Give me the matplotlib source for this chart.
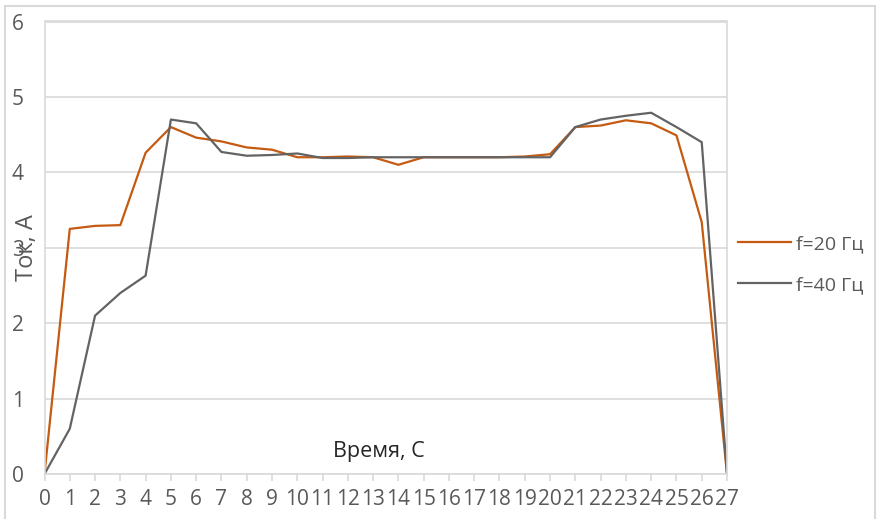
import matplotlib.pyplot as plt
from matplotlib.patches import Rectangle

plt.rcParams['font.family'] = ['Open Sans', 'DejaVu Sans']

# time, s
t = list(range(28))
# current, A
i_20 = [0, 3.25, 3.29, 3.30, 4.26, 4.60, 4.46, 4.41, 4.33, 4.30, 4.20, 4.20, 4.21, 4.20,
        4.10, 4.20, 4.20, 4.20, 4.20, 4.21, 4.24, 4.60, 4.62, 4.69, 4.65, 4.49, 3.34, 0]
i_40 = [0, 0.60, 2.10, 2.40, 2.63, 4.70, 4.65, 4.27, 4.22, 4.23, 4.25, 4.19, 4.19, 4.20,
        4.20, 4.20, 4.20, 4.20, 4.20, 4.20, 4.20, 4.60, 4.70, 4.75, 4.79, 4.60, 4.40, 0]
labels = ['f=20 Гц', 'f=40 Гц']

W, H = 881, 519
fig = plt.figure(figsize=(W / 100, H / 100), dpi=100)
ax = fig.add_axes([44.5 / W, 1 - 474 / H, (727 - 44.5) / W, (474 - 21.5) / H])

grid_c = '#D9D9D9'
text_c = '#595959'

ax.plot(t, i_20, color='#C55A11', lw=1.6, label=labels[0])
ax.plot(t, i_40, color='#636363', lw=1.6, label=labels[1])

ax.set_xlim(0, 27)
ax.set_ylim(0, 6)
ax.set_xticks(t)
ax.set_yticks(range(7))
ax.grid(axis='y', color=grid_c, lw=1.2)
ax.set_axisbelow(True)
for s in ax.spines.values():
    s.set_color(grid_c)
    s.set_linewidth(1.2)
ax.tick_params(axis='x', length=5, width=1.2, color=grid_c, labelsize=15,
               labelcolor=text_c, pad=6)
ax.tick_params(axis='y', length=0, labelsize=15, labelcolor=text_c, pad=15)

# axis titles
fig.text(378.5 / W, 1 - 452 / H, 'Время, С', ha='center', va='center',
         fontsize=15.5, color='#262626')
fig.text(27 / W, 1 - 248 / H, 'Ток, А', rotation=90, ha='center', va='center',
         fontsize=17, color=text_c)

leg = ax.legend(loc='center left', bbox_to_anchor=(738 / W, 1 - 264.5 / H),
                bbox_transform=fig.transFigure, frameon=False, fontsize=14,
                borderpad=0, borderaxespad=0, handlelength=2.7,
                handletextpad=0.3, labelspacing=1.2)
for txt in leg.get_texts():
    txt.set_color(text_c)

# chart border
fig.patches.append(Rectangle((5 / W, -0.05), 870 / W, 1 - 6 / H + 0.05,
                             transform=fig.transFigure, fill=False,
                             edgecolor=grid_c, lw=1.5))

fig.savefig('out.png', dpi=100)
